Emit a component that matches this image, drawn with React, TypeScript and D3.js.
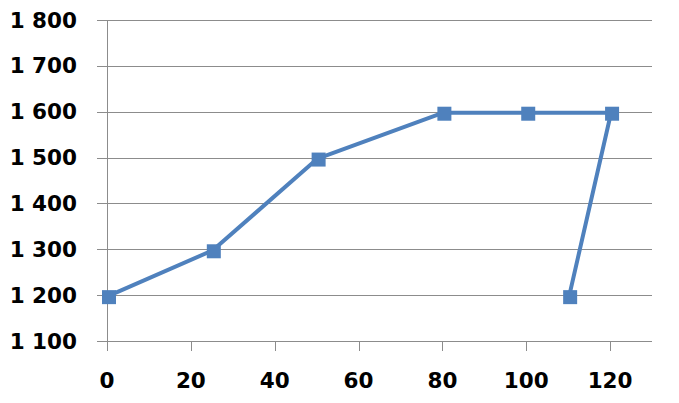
import React from "react";
import * as d3 from "d3";

const xValues = [0, 25, 50, 80, 100, 120, 110];
const yValues = [1200, 1300, 1500, 1600, 1600, 1600, 1200];
const xTicks = [0, 20, 40, 60, 80, 100, 120];
const yTicks = [1100, 1200, 1300, 1400, 1500, 1600, 1700, 1800];

const W = 679;
const H = 403;
const left = 107;
const right = 652;
const top = 20;
const bottom = 341;

export default function App() {
  const x = d3.scaleLinear().domain([0, 130]).range([left, right]);
  const y = d3.scaleLinear().domain([1100, 1800]).range([bottom, top]);
  const pts = xValues.map((v, i) => [x(v), y(yValues[i])] as [number, number]);
  const line = d3.line()(pts.map((p) => [p[0] + 1, p[1] + 1] as [number, number])) || "";
  const fmt = (v: number) => d3.format(",")(v).replace(/,/g, " ");
  const font = "'DejaVu Sans', sans-serif";
  const grid = "#8c8c8c";
  const color = "#4F81BD";
  return (
    <svg width={W} height={H} style={{ position: "absolute", left: 0, top: 0 }}>
      <rect width={W} height={H} fill="#fff" />
      {yTicks.map((t) => (
        <g key={"y" + t}>
          <line x1={left - 10} x2={right} y1={Math.round(y(t)) + 0.5} y2={Math.round(y(t)) + 0.5} stroke={grid} strokeWidth={1} />
          <text x={77} y={y(t)} textAnchor="end" dominantBaseline="central" fontFamily={font} fontWeight="bold" fontSize={21.5} fill="#000">
            {fmt(t)}
          </text>
        </g>
      ))}
      <line x1={left + 0.5} x2={left + 0.5} y1={top} y2={bottom + 10} stroke={grid} strokeWidth={1} />
      {xTicks.map((t) => (
        <g key={"x" + t}>
          <line x1={Math.round(x(t)) + 0.5} x2={Math.round(x(t)) + 0.5} y1={bottom} y2={bottom + 10} stroke={grid} strokeWidth={1} />
          <text x={x(t)} y={380} textAnchor="middle" dominantBaseline="central" fontFamily={font} fontWeight="bold" fontSize={21.5} fill="#000">
            {t}
          </text>
        </g>
      ))}
      <path d={line} fill="none" stroke={color} strokeWidth={4} strokeLinejoin="round" />
      {pts.map((p, i) => (
        <rect key={i} x={p[0] - 5} y={p[1] - 5} width={14} height={14} fill={color} />
      ))}
    </svg>
  );
}
